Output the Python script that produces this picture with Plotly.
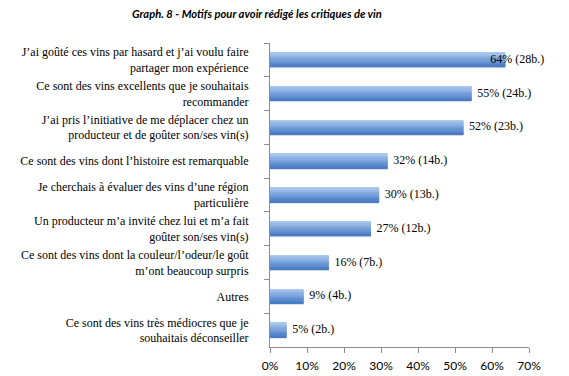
import plotly.graph_objects as go

categories = [
    "J’ai goûté ces vins par hasard et j’ai voulu faire<br>partager mon expérience",
    "Ce sont des vins excellents que je souhaitais<br>recommander",
    "J’ai pris l’initiative de me déplacer chez un<br>producteur et de goûter son/ses vin(s)",
    "Ce sont des vins dont l’histoire est remarquable",
    "Je cherchais à évaluer des vins d’une région<br>particulière",
    "Un producteur m’a invité chez lui et m’a fait<br>goûter son/ses vin(s)",
    "Ce sont des vins dont la couleur/l’odeur/le goût<br>m’ont beaucoup surpris",
    "Autres",
    "Ce sont des vins très médiocres que je<br>souhaitais déconseiller",
]
values = [63.6, 54.5, 52.3, 31.8, 29.5, 27.3, 15.9, 9.1, 4.5]
labels = ["64% (28b.)", "55% (24b.)", "52% (23b.)", "32% (14b.)", "30% (13b.)",
          "27% (12b.)", "16% (7b.)", "9% (4b.)", "5% (2b.)"]
title = "Graph. 8 - Motifs pour avoir rédigé les critiques de vin"
x_max = 70

serif = "Liberation Serif"
sans = "Lato"

fig = go.Figure()

# shadow
bar_w = 0.43
fig.add_trace(go.Bar(
    y=categories, x=values, orientation="h",
    width=bar_w, offset=-bar_w / 2 + 0.035,
    marker=dict(color="rgba(110,110,110,0.28)", line=dict(width=0)),
    hoverinfo="skip", showlegend=False,
))

# gradient stripes
top = (0.67, 0.79, 0.94)
bot = (0.29, 0.49, 0.78)
n = 12
sw = bar_w / n
for k in range(n):
    t = k / (n - 1)
    r, g, b = [top[i] + (bot[i] - top[i]) * t for i in range(3)]
    fig.add_trace(go.Bar(
        y=categories, x=values, orientation="h",
        width=sw + 0.004, offset=-bar_w / 2 + k * sw,
        marker=dict(color=f"rgb({int(r*255)},{int(g*255)},{int(b*255)})", line=dict(width=0)),
        hoverinfo="skip", showlegend=False,
    ))

# value labels (shifted left when they would overflow the axis)
label_x = [min(v, x_max - 12) + 1.5 for v in values]
fig.add_trace(go.Scatter(
    y=categories, x=label_x, mode="text", text=labels,
    textposition="middle right",
    textfont=dict(family=serif, size=12, color="#000000"),
    hoverinfo="skip", showlegend=False, cliponaxis=False,
))

fig.update_layout(
    width=569, height=376,
    margin=dict(l=270, r=40, t=43, b=29),
    paper_bgcolor="white", plot_bgcolor="white",
    barmode="overlay",
    title=dict(text=f"<b><i>{title}</i></b>", x=257 / 569, xanchor="center",
               y=1 - 14 / 376, yanchor="middle",
               font=dict(family=sans, size=11.2, color="#000000")),
    xaxis=dict(range=[0, x_max], dtick=10, ticksuffix="%",
               showgrid=False, zeroline=False, automargin=False,
               showline=True, linecolor="#8c8c8c", linewidth=1,
               ticks="outside", ticklen=5, tickcolor="#8c8c8c",
               ticklabelstandoff=3,
               tickfont=dict(family=sans, size=12, color="#000000")),
    yaxis=dict(autorange="reversed", type="category",
               showgrid=False, zeroline=False, automargin=False,
               showline=True, linecolor="#8c8c8c", linewidth=1,
               ticks="outside", ticklen=5, tickcolor="#8c8c8c",
               tickson="boundaries", ticklabelstandoff=18,
               tickfont=dict(family=serif, size=12, color="#000000")),
)

fig.write_html("out.html", config={"displayModeBar": False},
               post_script="document.body.style.margin='0';document.body.style.overflow='hidden';")
